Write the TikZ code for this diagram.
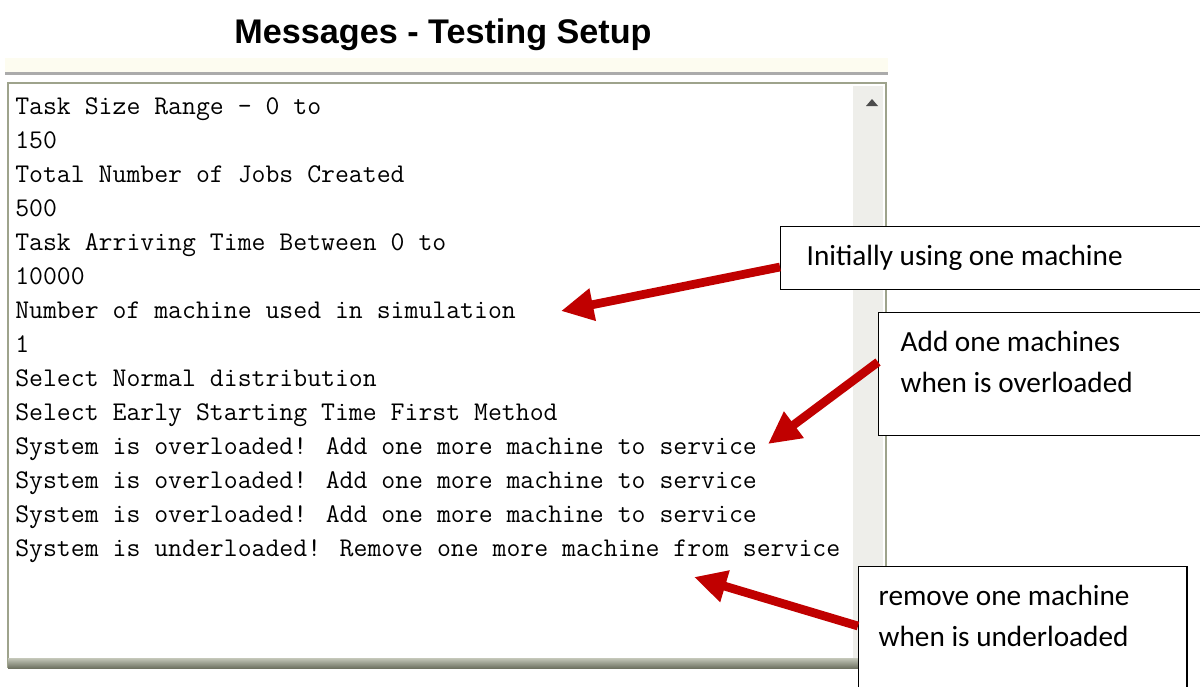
\documentclass[tikz,border=0pt]{standalone}
\usepackage{fontspec}
\usepackage{tikz}
\usetikzlibrary{positioning,arrows.meta,calc}
\newfontfamily\calloutfont{Carlito}
\newfontfamily\titlefont{Liberation Sans}
\definecolor{arrowred}{RGB}{192,0,0}
\definecolor{framegray}{RGB}{158,163,140}
\definecolor{barbeige}{RGB}{253,252,240}
\definecolor{scrollgray}{RGB}{238,238,234}
\newcommand{\callbody}[3]{\parbox[t][#1][t]{#2}{\rule{0pt}{0.98cm}#3}}

\begin{document}
\begin{tikzpicture}[
    x=0.025cm, y=-0.025cm,
    title/.style={font=\titlefont\bfseries\fontsize{24.3pt}{29pt}\selectfont},
    msgline/.style={anchor=base west,inner sep=0pt,
                    font=\ttfamily\fontsize{19.2pt}{23pt}\selectfont},
    callout/.style={draw=black,line width=1pt,fill=white,anchor=north west,
                    inner ysep=0pt,font=\calloutfont\fontsize{20.8pt}{29pt}\selectfont},
    arrow/.style={-{Triangle[length=23pt,width=22pt]},line width=6.2pt,arrowred}
]
\useasboundingbox (0,0) rectangle (1200,686);

\node[title] (title) at (443,35) {Messages - Testing Setup};

\fill[barbeige] (5,58) rectangle (888,72);
\fill[black!33] (5,72) rectangle (888,75);
\draw[framegray,line width=1.4pt,fill=white] (8,83) rectangle (886,667);
\fill[scrollgray] (853,86) rectangle (883,658);
\fill[black!70] (866,106) -- (878,106) -- (872,99) -- cycle;
\shade[top color=framegray!60,bottom color=framegray!70!black] (8,658) rectangle (886,668);

\foreach \msg [count=\i] in {Task Size Range - 0 to,150,Total Number of Jobs Created,500,
    Task Arriving Time Between 0 to,10000,Number of machine used in simulation,1,
    Select Normal distribution,Select Early Starting Time First Method,
    System is overloaded! Add one more machine to service,
    System is overloaded! Add one more machine to service,
    System is overloaded! Add one more machine to service,
    System is underloaded! Remove one more machine from service}
  \node[msgline] (line\i) at (15,{80+34*\i}) {\msg};

\node[callout,inner xsep=0.65cm] (initbox) at (780,226)
  {\callbody{1.575cm}{9.45cm}{Initially using one machine}};
\node[callout,inner xsep=0.55cm] (overbox) at (878,312)
  {\callbody{3.075cm}{7.4cm}{Add one machines\\when is overloaded}};
\node[callout,inner xsep=0.5cm] (underbox) at (858,566)
  {\callbody{3.25cm}{7.2cm}{remove one machine\\when is underloaded}};

\coordinate (tipinit) at (561,311);
\coordinate (tipover) at (768,444);
\coordinate (tipunder) at (694,577);

\draw[arrow] ($(initbox.north west)+(0,41)$) -- (tipinit);
\draw[arrow] ($(overbox.north west)+(0,50)$) -- (tipover);
\draw[arrow] ($(underbox.north west)+(0,60)$) -- (tipunder);
\end{tikzpicture}
\end{document}
